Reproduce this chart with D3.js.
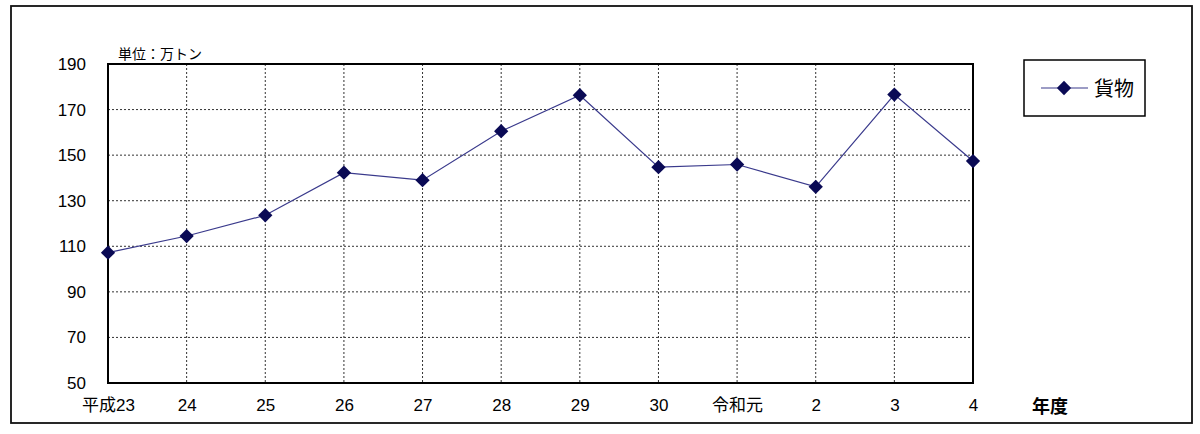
<!DOCTYPE html>
<html><head><meta charset="utf-8">
<script src="https://cdn.jsdelivr.net/npm/d3@7/dist/d3.min.js"></script>
<style>
html,body{margin:0;padding:0;background:#fff;}
text{font-family:"Liberation Sans","Noto Sans CJK JP",sans-serif;}
</style></head>
<body><svg id="c" width="1200" height="434"></svg>
<script>
const categories = ["平成23","24","25","26","27","28","29","30","令和元","2","3","4"];
const cargo = [107.2,114.5,123.6,142.3,139.0,160.5,176.3,144.7,145.9,136.1,176.6,147.4];
const yTicks = [50,70,90,110,130,150,170,190];
const seriesName = "貨物";
const unitLabel = "単位：万トン";
const xTitle = "年度";

const svg = d3.select("#c");
const mix = '"Liberation Sans","Noto Sans CJK JP",sans-serif';
const cjk = '"Noto Sans CJK JP","Liberation Sans",sans-serif';
const L=108,R=973,T=64,B=383;

svg.append("rect").attr("x",11).attr("y",6).attr("width",1181).attr("height",417)
  .attr("fill","none").attr("stroke","#111").attr("stroke-width",1.8);

const x = d3.scalePoint().domain(categories).range([L,R]).padding(0);
const y = d3.scaleLinear().domain([50,190]).range([B,T]);

const g = svg.append("g");
g.selectAll("line.hg").data(yTicks.slice(1,-1)).join("line")
  .attr("x1",L).attr("x2",R).attr("y1",d=>y(d)).attr("y2",d=>y(d))
  .attr("stroke","#333").attr("stroke-width",1).attr("stroke-dasharray","2,2");
g.selectAll("line.vg").data(categories.slice(1,-1)).join("line")
  .attr("y1",T).attr("y2",B).attr("x1",d=>x(d)).attr("x2",d=>x(d))
  .attr("stroke","#333").attr("stroke-width",1).attr("stroke-dasharray","2,2");
g.append("rect").attr("x",L).attr("y",T).attr("width",R-L).attr("height",B-T)
  .attr("fill","none").attr("stroke","#000").attr("stroke-width",2);

const ya = svg.append("g").attr("transform",`translate(${L},0)`)
  .call(d3.axisLeft(y).tickValues(yTicks).tickSize(0).tickPadding(22));
ya.select(".domain").remove();
ya.selectAll("text").attr("font-size",17).attr("fill","#000").style("font-family",mix);

const xa = svg.append("g").attr("transform",`translate(0,${B})`)
  .call(d3.axisBottom(x).tickSize(0).tickPadding(16));
xa.select(".domain").remove();
xa.selectAll("text").attr("font-size",17).attr("fill","#000").style("font-family",mix);

const line = d3.line().x((d,i)=>x(categories[i])).y(d=>y(d));
svg.append("path").datum(cargo).attr("d",line).attr("fill","none")
  .attr("stroke","#3a3a8c").attr("stroke-width",1.2);
const sym = d3.symbol().type(d3.symbolDiamond2).size(130);
svg.selectAll("path.m").data(cargo).join("path")
  .attr("transform",(d,i)=>`translate(${x(categories[i])},${y(d)})`)
  .attr("d",sym).attr("fill","#0a0a55");

svg.append("text").attr("x",118).attr("y",59).attr("font-size",14).style("font-family",cjk).text(unitLabel);
svg.append("text").attr("x",1032).attr("y",413).attr("font-size",18).attr("font-weight","bold").style("font-family",cjk).text(xTitle);

svg.append("rect").attr("x",1024).attr("y",60).attr("width",121).attr("height",56)
  .attr("fill","#fff").attr("stroke","#000").attr("stroke-width",1.5);
svg.append("line").attr("x1",1041).attr("x2",1088).attr("y1",88).attr("y2",88)
  .attr("stroke","#3a3a8c").attr("stroke-width",1.2);
svg.append("path").attr("transform","translate(1064,88)").attr("d",sym).attr("fill","#0a0a55");
svg.append("text").attr("x",1094).attr("y",96).attr("font-size",20).style("font-family",cjk).text(seriesName);
</script></body></html>
